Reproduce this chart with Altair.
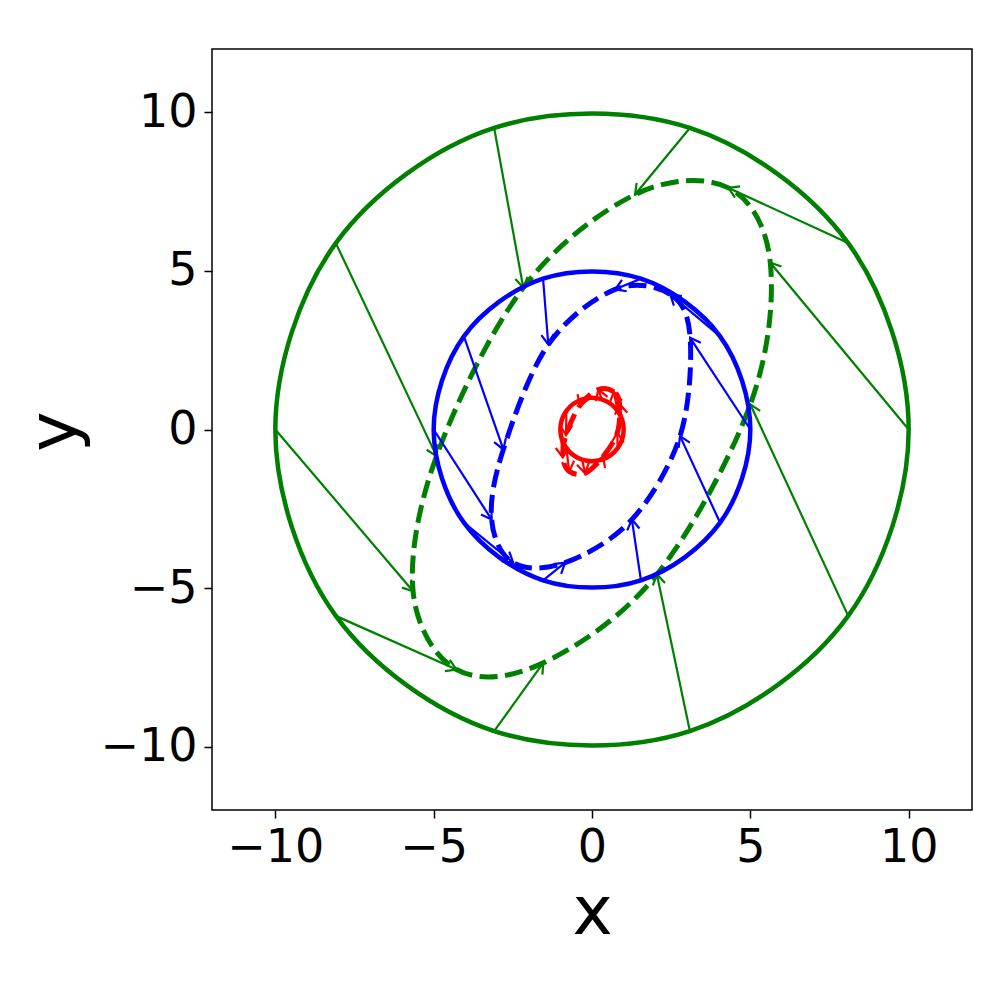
import math
import altair as alt
import pandas as pd

# ---- data ----
angles_deg = [0, 36, 72, 108, 144, 180, 216, 252, 288, 324]
radii = [10, 5, 1]
colors = ["#008000", "#0000ff", "#ff0000"]

green_end_x = [5.63, 4.31, 1.36, -2.17, -4.91, -5.65, -4.28, -1.54, 2.05, 5.00]
green_end_y = [5.26, 7.62, 7.41, 4.47, -0.84, -5.10, -7.57, -7.36, -4.57, 0.79]
blue_end_x = [3.10, 2.47, 0.73, -1.38, -2.80, -3.17, -2.49, -0.85, 1.26, 2.78]
blue_end_y = [2.89, 4.26, 4.42, 2.68, -0.63, -2.84, -4.20, -4.20, -2.84, -0.21]
red_end_x = [0.87, 0.69, 0.20, -0.39, -0.82, -0.92, -0.72, -0.22, 0.35, 0.80]
red_end_y = [0.81, 1.19, 1.26, 0.75, -0.18, -0.88, -1.32, -1.38, -0.85, -0.10]

ends = [(green_end_x, green_end_y), (blue_end_x, blue_end_y), (red_end_x, red_end_y)]

tick_values = [-10, -5, 0, 5, 10]
x_title = "x"
y_title = "y"

FONT = "DejaVu Sans"
ARROW = "M -1 -0.62 L 0 0 L -1 0.62"

xs = alt.Scale(domain=[-12, 12], nice=False, zero=False)
ys = alt.Scale(domain=[-12, 12], nice=False, zero=False)
label_expr = "datum.value < 0 ? '\u2212' + abs(datum.value) : '' + datum.value"
xaxis = alt.Axis(values=tick_values, title=x_title, labelExpr=label_expr,
                 titleY=123, titleX=380, titleBaseline="alphabetic", titleAlign="center",
                 titleFontSize=68)
yaxis = alt.Axis(values=tick_values, title=y_title, labelExpr=label_expr,
                 titleX=-137, titleY=382, titleAngle=270, titleBaseline="alphabetic",
                 titleAlign="center", titleFontSize=68)


def ring_layers(r, c, ex, ey):
    rows = []
    for i, a in enumerate(angles_deg):
        t = math.radians(a)
        x0 = r * math.cos(t)
        y0 = r * math.sin(t)
        x1, y1 = ex[i], ey[i]
        ang = math.degrees(math.atan2(-(y1 - y0), (x1 - x0))) % 360
        rows.append(dict(idx=i, x0=x0, y0=y0, x1=x1, y1=y1, ang=ang))
    df = pd.DataFrame(rows)
    base = alt.Chart(df)
    circle = base.mark_line(interpolate="cardinal-closed", strokeWidth=4.5, color=c).encode(
        x=alt.X("x0:Q", scale=xs, axis=xaxis),
        y=alt.Y("y0:Q", scale=ys, axis=yaxis),
        order=alt.Order("idx:Q"),
    )
    ellipse = base.mark_line(interpolate="cardinal-closed", strokeWidth=5,
                             strokeDash=[18, 7.5], color=c).encode(
        x=alt.X("x1:Q", scale=xs, axis=xaxis),
        y=alt.Y("y1:Q", scale=ys, axis=yaxis),
        order=alt.Order("idx:Q"),
    )
    shaft = base.mark_rule(strokeWidth=2.2, color=c).encode(
        x=alt.X("x0:Q", scale=xs, axis=xaxis),
        y=alt.Y("y0:Q", scale=ys, axis=yaxis),
        x2="x1:Q",
        y2="y1:Q",
    )
    head = base.mark_point(shape=ARROW, filled=False, size=400, strokeWidth=2.2,
                           color=c, opacity=1).encode(
        x=alt.X("x1:Q", scale=xs, axis=xaxis),
        y=alt.Y("y1:Q", scale=ys, axis=yaxis),
        angle=alt.Angle("ang:Q", scale=None),
    )
    return [circle, ellipse, shaft, head]


layers = []
for r, c, (ex, ey) in zip(radii, colors, ends):
    layers += ring_layers(r, c, ex, ey)

chart = alt.layer(*layers).properties(
    width=760,
    height=761,
    autosize=alt.AutoSizeParams(type="none"),
    padding={"left": 204, "top": 41, "right": 17, "bottom": 179},
    background="white",
).configure_view(
    stroke="black", strokeWidth=1.5
).configure_axis(
    grid=False,
    domain=False,
    ticks=True,
    tickSize=8,
    tickWidth=1.5,
    tickColor="black",
    labelFont=FONT,
    labelFontSize=46,
    labelColor="black",
    labelPadding=7,
    titleFont=FONT,
    titleFontWeight="normal",
    titleColor="black",
)

chart.save("out.html", embed_options={"renderer": "svg", "actions": False})
